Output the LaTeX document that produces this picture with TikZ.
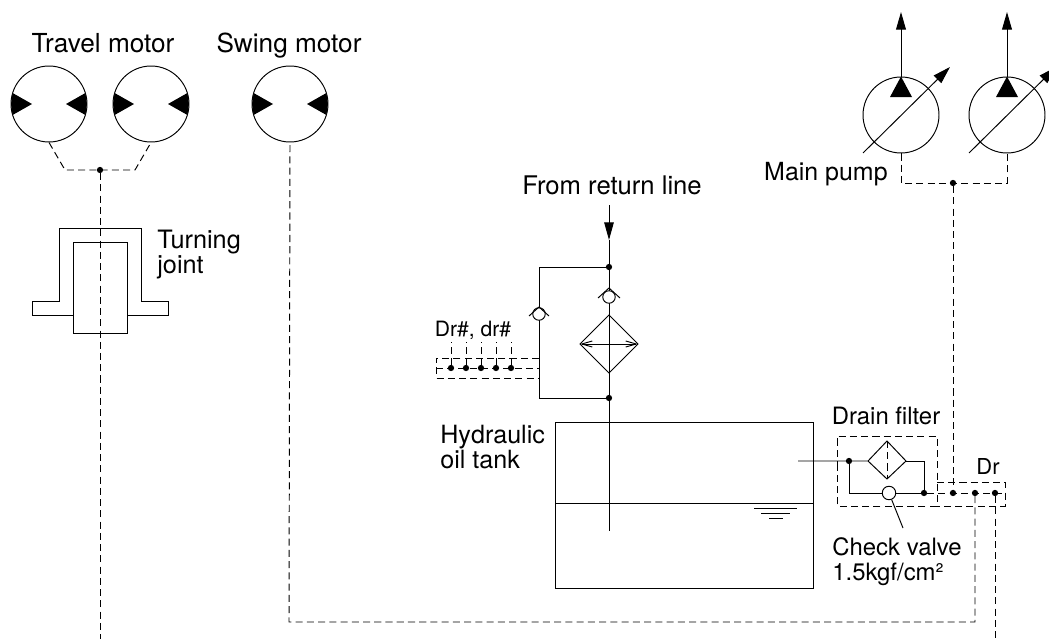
\documentclass[tikz,border=0pt]{standalone}
\usepackage{fontspec}
\setmainfont{TeX Gyre Heros}
\usetikzlibrary{arrows.meta}
\newcommand{\junctionAt}[2]{%%
  \node[nodeStyle] (#1) at (#2) {};
}
\newcommand{\motorAt}[2]{%%
  \node[motorStyle] (#1) at (#2) {};
  \fill ([shift={(-36.4,-11)}]#2) -- ([shift={(-17,0)}]#2) -- ([shift={(-36.4,11)}]#2)
    -- ([shift={(-38,0)}]#2) -- cycle;
  \fill ([shift={(36.4,-11)}]#2) -- ([shift={(17,0)}]#2) -- ([shift={(36.4,11)}]#2)
    -- ([shift={(38,0)}]#2) -- cycle;
}
\newcommand{\pumpAt}[2]{%%
  \node[motorStyle] (#1) at (#2) {};
  \coordinate (#1Up) at ([shift={(0,-103)}]#2);
  \coordinate (#1Low) at ([shift={(-38,38)}]#2);
  \coordinate (#1High) at ([shift={(49,-48)}]#2);
  \fill (#1.north) -- ([shift={(11,-18)}]#2) -- ([shift={(-11,-18)}]#2) -- cycle;
  \draw[pipeStyle,-{Triangle[length=10pt,width=5.6pt]}] (#1.north) -- (#1Up);
  \draw[pipeStyle,-{Triangle[length=10pt,width=6pt]}] (#1Low) -- (#1High);
}

\begin{document}
\begin{tikzpicture}[%%
  x=0.02cm,y=-0.02cm,%%
  pipeStyle/.style={line width=0.55pt,black},%%
  dashStyle/.style={line width=0.55pt,black,dash pattern=on 4pt off 2.4pt},%%
  motorStyle/.style={draw,circle,line width=0.55pt,inner sep=0pt,minimum size=1.52cm},%%
  nodeStyle/.style={draw,inner sep=1.1pt,circle,fill=black,black},%%
  valveStyle/.style={draw,circle,line width=0.55pt,fill=white,inner sep=0pt,minimum size=0.25cm},%%
  labelStyle/.style={inner sep=0pt,align=left,font=\fontsize{#1}{14.2}\selectfont}%%
]
\useasboundingbox (0,0) rectangle (1049,639);
%%
%% The motors.
\motorAt{travelLeft}{49,104}
\motorAt{travelRight}{151,104}
\motorAt{swing}{290,104}
\coordinate (travelLeftKnee) at (65,170);
\coordinate (travelRightKnee) at (135,170);
\junctionAt{travelJoin}{100,170}
\coordinate (travelEnd) at (100,639);
\draw[dashStyle] (travelLeft.south) -- (travelLeftKnee) -- (travelRightKnee) -- (travelRight.south);
\draw[dashStyle] (travelJoin) -- (travelEnd);
%%
%% The turning joint.
\draw[pipeStyle] (73,315) -- (32,315) -- (32,301) -- (59,301) -- (59,228) -- (141,228)
  -- (141,301) -- (168,301) -- (168,315) -- (127,315);
\draw[pipeStyle] (73,242) rectangle (127,333);
%%
%% The main pumps.
\pumpAt{pumpLeft}{901,115}
\pumpAt{pumpRight}{1007,115}
\coordinate (pumpLeftKnee) at (901,183);
\coordinate (pumpRightKnee) at (1007,183);
\junctionAt{pumpJoin}{953,183}
\draw[dashStyle] (pumpLeft.south) -- (pumpLeftKnee) -- (pumpRightKnee) -- (pumpRight.south);
%%
%% The return line and the filter.
\coordinate (returnStart) at (609,205);
\coordinate (returnArrow) at (609,240);
\coordinate (pipeEnd) at (609,531);
\junctionAt{returnTop}{609,267}
\junctionAt{returnBottom}{609,398}
\coordinate (bypassTop) at (539,267);
\coordinate (bypassBottom) at (539,398);
\draw[pipeStyle,-{Triangle[length=10pt,width=5.4pt]}] (returnStart) -- (returnArrow);
\draw[pipeStyle] (returnArrow) -- (pipeEnd);
\draw[pipeStyle] (returnTop) -- (bypassTop) -- (bypassBottom) -- (returnBottom);
\draw[pipeStyle] (609,315) -- (638,344) -- (609,373) -- (580,344) -- cycle;
\draw[pipeStyle,{Straight Barb[length=6pt,width=3.4pt]}-{Straight Barb[length=6pt,width=3.4pt]}] (580,344) -- (638,344);
%% The check valves.
\node[valveStyle] (valveBypass) at (539,314) {};
\node[valveStyle] (valveFilter) at (609,297) {};
\draw[pipeStyle] (529,316) -- (539,307) -- (549,316);
\draw[pipeStyle] (598,298) -- (609,288) -- (620,298);
%%
%% The manifold on the left.
\coordinate (manifoldTop) at (539,358);
\coordinate (manifoldMid) at (539,368);
\coordinate (manifoldLow) at (539,378);
\draw[dashStyle] (manifoldTop) -- (436,358) -- (436,378) -- (manifoldLow);
\draw[dashStyle] (436,368) -- (manifoldMid);
\foreach \x/\name in {451/a,466/b,481/c,496/d,511/e}{%%
  \junctionAt{manifold\name}{\x,368}
  \coordinate (stub\name) at (\x,342);
  \draw[dashStyle] (manifold\name) -- (stub\name);
}
%%
%% The tank.
\draw[pipeStyle] (555,422) rectangle (813,588);
\draw[pipeStyle] (555,503) -- (813,503);
\draw[pipeStyle] (754,508) -- (797,508);
\draw[pipeStyle] (761,513) -- (790,513);
\draw[pipeStyle] (769,518) -- (783,518);
%%
%% The drain filter.
\coordinate (inletStart) at (798,461);
\junctionAt{inletJoin}{849,461}
\junctionAt{outletJoin}{924,493}
\coordinate (inletLow) at (849,493);
\coordinate (outletHigh) at (924,461);
\coordinate (drainEnd) at (1005,493);
\node[valveStyle,minimum size=0.27cm] (valveDrain) at (889,493) {};
\draw[pipeStyle] (inletStart) -- (inletJoin) -- (868,461) -- (887,441) -- (906,461) -- (887,479) -- (868,461);
\draw[pipeStyle] (906,461) -- (outletHigh) -- (outletJoin);
\draw[pipeStyle] (inletJoin) -- (inletLow) -- (valveDrain) -- (outletJoin);
\draw[dashStyle] (887,441) -- (887,479);
\draw[dashStyle] (837,468) -- (837,436) -- (937,436) -- (937,506) -- (837,506) -- (837,468);
\draw[dashStyle] (937,482) -- (1005,482) -- (1005,506) -- (937,506);
\junctionAt{drainA}{953,493}
\junctionAt{drainB}{975,493}
\junctionAt{drainC}{995,493}
\coordinate (swingCorner) at (975,622);
\coordinate (swingBack) at (289,622);
\coordinate (drainOut) at (995,639);
\draw[dashStyle] (outletJoin) -- (drainEnd);
\draw[dashStyle] (pumpJoin) -- (drainA);
\draw[dashStyle] (drainB) -- (swingCorner) -- (swingBack) -- (swing.south);
\draw[dashStyle] (drainC) -- (drainOut);
\coordinate (checkLabelEnd) at (903,528);
\draw[pipeStyle] (valveDrain) -- (checkLabelEnd);
%%
%% The labels.
\node[labelStyle=14.9] (labelTravel) at (103,43) {Travel motor};
\node[labelStyle=14.9] (labelSwing) at (289,46) {Swing motor};
\node[labelStyle=14.4,anchor=west] (labelJoint) at (157,255) {Turning\\joint};
\node[labelStyle=14.6] (labelReturn) at (612,185) {From return line};
\node[labelStyle=14.2] (labelPump) at (826,174) {Main pump};
\node[labelStyle=12] (labelPorts) at (473,330) {Dr\#, dr\#};
\node[labelStyle=14.3,anchor=west] (labelTank) at (440,447) {Hydraulic\\oil tank};
\node[labelStyle=13.6] (labelFilter) at (886,416) {Drain filter};
\node[labelStyle=12.5] (labelDr) at (988,466) {Dr};
\node[labelStyle=13.6,anchor=west] (labelCheck) at (832,562) {Check valve\\1.5kgf/cm²};
\end{tikzpicture}
\end{document}
